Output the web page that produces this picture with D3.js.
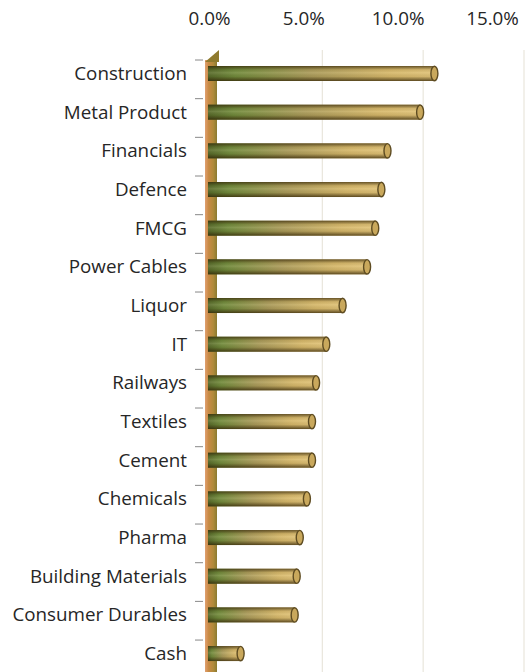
<!DOCTYPE html>
<html><head><meta charset="utf-8">
<script src="https://cdn.jsdelivr.net/npm/d3@7"></script>
<style>body{margin:0;background:#fff}svg{display:block}</style>
</head><body><div id="c"></div>
<script>
const categories = ["Construction","Metal Product","Financials","Defence","FMCG","Power Cables","Liquor","IT","Railways","Textiles","Cement","Chemicals","Pharma","Building Materials","Consumer Durables","Cash"];
const values = [11.0,10.3,8.7,8.4,8.1,7.7,6.5,5.7,5.2,5.0,5.0,4.75,4.4,4.25,4.15,1.5];
const tickValues = [0,5,10,15];

const W=531,H=672;
const FONT="'Open Sans', 'Noto Sans', sans-serif";
const FS=18.8;
const svg=d3.select("#c").append("svg").attr("width",W).attr("height",H);
const defs=svg.append("defs");

const xAxisScale=d3.scaleLinear().domain([0,15]).range([209,492]);
const xGrid=d3.scaleLinear().domain([0,15]).range([221.5,524]);
const xBar=d3.scaleLinear().domain([0,15]).range([213,519]);
const y=d3.scaleBand().domain(categories).range([60,60+38.67*16]).paddingInner(0);

const hg=defs.append("linearGradient").attr("id","hg").attr("x1",0).attr("x2",1).attr("y1",0).attr("y2",0);
[[0,"#55692a"],[0.12,"#6f8a3c"],[0.45,"#a99a5a"],[0.8,"#d6b86b"],[1,"#e0c278"]].forEach(s=>hg.append("stop").attr("offset",s[0]).attr("stop-color",s[1]));
const vg=defs.append("linearGradient").attr("id","vg").attr("x1",0).attr("x2",0).attr("y1",0).attr("y2",1);
[[0,"rgba(50,35,5,0.7)"],[0.25,"rgba(50,35,5,0.08)"],[0.45,"rgba(255,245,210,0.12)"],[0.7,"rgba(50,35,5,0.08)"],[1,"rgba(50,35,5,0.75)"]].forEach(s=>vg.append("stop").attr("offset",s[0]).attr("stop-color",s[1]));
const wg=defs.append("linearGradient").attr("id","wg").attr("x1",0).attr("x2",1).attr("y1",0).attr("y2",0);
[[0,"#e0a070"],[0.3,"#c98a45"],[0.7,"#b08a3a"],[1,"#8a7a30"]].forEach(s=>wg.append("stop").attr("offset",s[0]).attr("stop-color",s[1]));

svg.append("g").selectAll("line").data(tickValues.slice(1)).join("line")
  .attr("x1",d=>xGrid(d)).attr("x2",d=>xGrid(d)).attr("y1",50).attr("y2",672)
  .attr("stroke","#e9e6dc").attr("stroke-width",1.2);

const ax=svg.append("g").attr("transform","translate(0,28)")
  .call(d3.axisTop(xAxisScale).tickValues(tickValues).tickSize(0).tickFormat(d=>d3.format(".1f")(d)+"%"));
ax.select(".domain").remove();
ax.selectAll("text").attr("font-family",FONT).attr("font-size",FS).attr("fill","#262626").attr("dy",0);

svg.append("g").selectAll("text").data(categories).join("text")
  .attr("x",187).attr("y",d=>y(d)+13.5).attr("dy","0.35em").attr("text-anchor","end")
  .attr("font-family",FONT).attr("font-size",FS).attr("fill","#262626").text(d=>d);

svg.append("g").selectAll("line").data(categories).join("line")
  .attr("x1",195).attr("x2",203).attr("y1",d=>y(d)).attr("y2",d=>y(d))
  .attr("stroke","#888").attr("stroke-width",1);

svg.append("rect").attr("x",205).attr("y",60).attr("width",12).attr("height",H-60).attr("fill","url(#wg)");
svg.append("path").attr("d","M205,62 L219,50 L219,62 Z").attr("fill","#8f7a2e");

const bh=15;
const g=svg.append("g").selectAll("g").data(categories).join("g")
  .attr("transform",d=>`translate(0,${y(d)+13.5-bh/2})`);
g.append("rect").attr("x",208).attr("y",0).attr("height",bh)
  .attr("width",(d,i)=>xBar(values[i])-208-3).attr("fill","url(#hg)");
g.append("rect").attr("x",208).attr("y",0).attr("height",bh)
  .attr("width",(d,i)=>xBar(values[i])-208-3).attr("fill","url(#vg)");
g.append("ellipse").attr("cx",(d,i)=>xBar(values[i])-3).attr("cy",bh/2).attr("rx",3.5).attr("ry",bh/2-0.3)
  .attr("fill","#c9a85c").attr("stroke","#5e4c22").attr("stroke-width",1.4);
</script></body></html>
